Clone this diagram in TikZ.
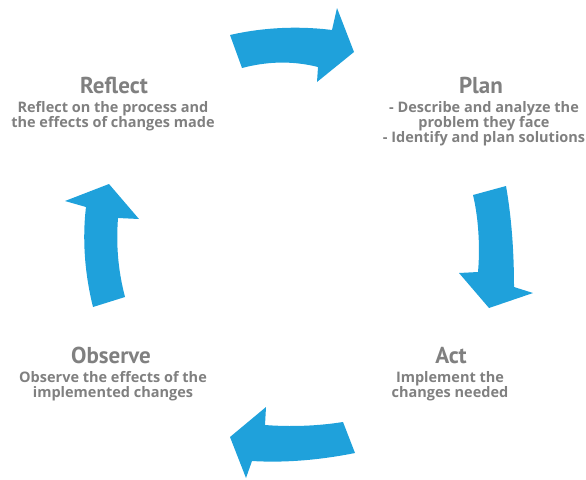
\documentclass[tikz,border=0pt]{standalone}
\usepackage{fontspec}
\setmainfont{PT Sans}
\newfontfamily\notefont{Open Sans}
\definecolor{cycleblue}{RGB}{31,161,219}
\definecolor{labelgrey}{RGB}{128,128,128}
\tikzset{
  bigarrow/.style={fill=cycleblue},
  steptitle/.style={font=\bfseries\fontsize{23}{26}\selectfont, text=labelgrey, inner sep=0pt, anchor=base},
  stepnote/.style={font=\notefont\bfseries\fontsize{14.5}{15}\selectfont, text=labelgrey, inner sep=0pt, align=center, anchor=north},
}
\begin{document}
\begin{tikzpicture}[x=1pt,y=-1pt]
    \useasboundingbox (0,0) rectangle (586,479);

    % arrows of the cycle
    \fill[bigarrow] (230,35) .. controls (265,27) and (300,26) .. (332,30) -- (337,8) -- (354,52) -- (317,82) -- (318,67) .. controls (290,60) and (265,62) .. (242,68) -- cycle;
    \fill[bigarrow] (473,195) -- (506,186) .. controls (512,220) and (514,255) .. (514,287) -- (533,293) -- (489,308) -- (459,273) -- (478,272) .. controls (480,250) and (479,220) .. (473,195) -- cycle;
    \fill[bigarrow] (343,422) -- (355,453) .. controls (320,460) and (285,463) .. (252,461) -- (246,478) -- (230,437) -- (266,407) -- (265,425) .. controls (290,427) and (318,426) .. (343,422) -- cycle;
    \fill[bigarrow] (93,307) -- (125,297) .. controls (118,270) and (116,245) .. (118,218) -- (139,219) -- (109,184) -- (65,201) -- (86,207) .. controls (82,240) and (85,275) .. (93,307) -- cycle;

    % steps
    \node[steptitle] (reflect) at (114,93) {Reflect};
    \node[stepnote] (reflectnote) at (113,101) {Reflect on the process and\\the effects of changes made};

    \node[steptitle] (plan) at (481,93) {Plan};
    \node[stepnote] (plannote) at (484,101) {- Describe and analyze the\\problem they face\\- Identify and plan solutions};

    \node[steptitle] (act) at (451,363) {Act};
    \node[stepnote] (actnote) at (450,371) {Implement the\\changes needed};

    \node[steptitle] (observe) at (111,363) {Observe};
    \node[stepnote] (observenote) at (113,371) {Observe the effects of the\\implemented changes};
\end{tikzpicture}
\end{document}
